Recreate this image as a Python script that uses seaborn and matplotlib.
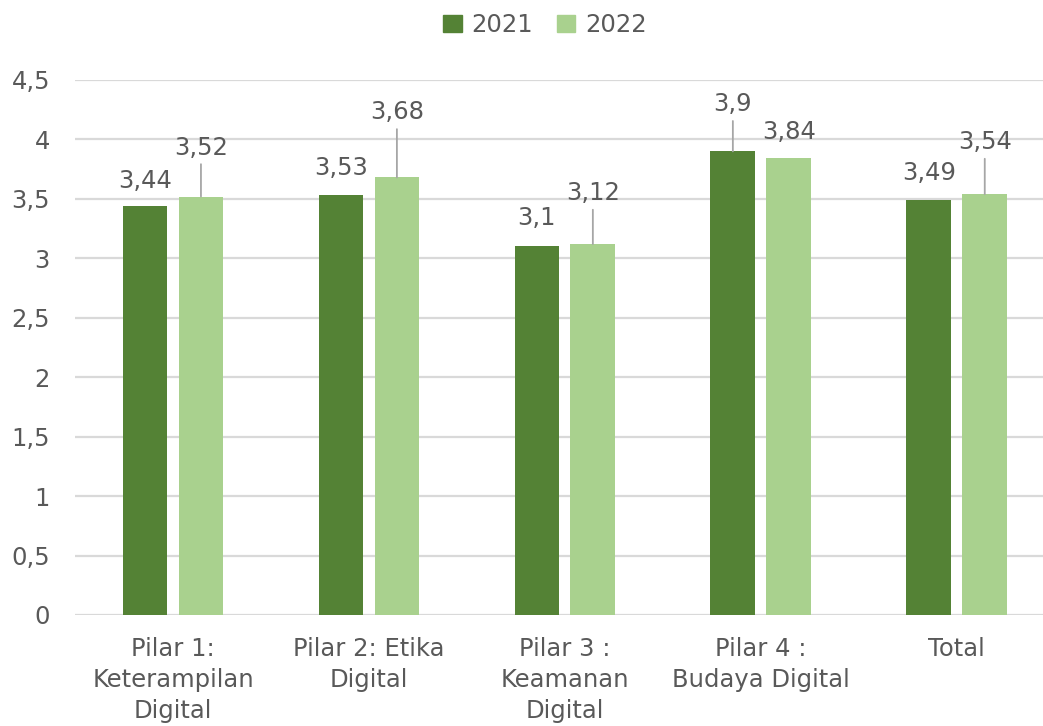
import matplotlib
matplotlib.use("Agg")
import matplotlib.pyplot as plt
import seaborn as sns
import pandas as pd

categories = ["Pilar 1:\nKeterampilan\nDigital", "Pilar 2: Etika\nDigital",
              "Pilar 3 :\nKeamanan\nDigital", "Pilar 4 :\nBudaya Digital", "Total"]
years = ["2021", "2022"]
values_2021 = [3.44, 3.53, 3.10, 3.90, 3.49]
values_2022 = [3.52, 3.68, 3.12, 3.84, 3.54]
y_ticks = [0, 0.5, 1, 1.5, 2, 2.5, 3, 3.5, 4, 4.5]

# label placement above each bar: (dx, dy) in pixels, and whether a leader line is drawn
label_offsets = {
    "2021": [(0, 25, False), (0, 27, False), (0, 28, False), (0, 47, True), (0, 27, False)],
    "2022": [(0, 49, True), (0, 65, True), (0, 51, True), (0, 26, False), (0, 52, True)],
}

sns.set_theme(style="white")
plt.rcParams["font.family"] = ["DejaVu Sans"]

TEXT = "#595959"
GRID = "#D9D9D9"
FS = 17.5
palette = {"2021": "#548235", "2022": "#A9D18E"}

df = pd.DataFrame({
    "Pilar": categories * 2,
    "Tahun": [years[0]] * len(categories) + [years[1]] * len(categories),
    "Skor": values_2021 + values_2022,
})

fig = plt.figure(figsize=(10.43, 7.26), dpi=100)
W, H = 1043, 726
ax = fig.add_axes([75 / W, 1 - 615 / H, (W - 75) / W, 535 / H])

sns.barplot(data=df, x="Pilar", y="Skor", hue="Tahun", palette=palette,
            width=0.571, gap=0.2, saturation=1, ax=ax, legend=True, errorbar=None,
            linewidth=0, edgecolor="none")

ax.set_ylim(0, 4.5)
ax.set_xlim(-0.5, 4.44)
ax.set_yticks(y_ticks)
ax.set_yticklabels([f"{t:g}".replace(".", ",") for t in y_ticks])
ax.set_xlabel("")
ax.set_ylabel("")
for s in ax.spines.values():
    s.set_visible(False)
ax.yaxis.grid(True, color=GRID, linewidth=1.6)
ax.set_axisbelow(True)
ax.tick_params(axis="both", length=0, labelsize=FS, labelcolor=TEXT)
ax.tick_params(axis="y", pad=18)
ax.tick_params(axis="x", pad=16)
for lbl in ax.get_xticklabels():
    lbl.set_linespacing(1.36)

# value labels
for container, year in zip(ax.containers, years):
    for bar, val, (dx, dy, line) in zip(container, df[df["Tahun"] == year]["Skor"],
                                        label_offsets[year]):
        x = bar.get_x() + bar.get_width() / 2
        y = bar.get_height()
        props = dict(arrowstyle="-", color="#A6A6A6", lw=1.3, shrinkA=1, shrinkB=0) if line else None
        ax.annotate(f"{val:g}".replace(".", ","), xy=(x, y), xytext=(dx, dy),
                    textcoords="offset pixels", ha="center", va="center",
                    fontsize=FS, color=TEXT, arrowprops=props)

leg = ax.get_legend()
leg.remove()
handles = [plt.Rectangle((0, 0), 1, 1, color=palette[y]) for y in years]
fig.legend(handles, years, loc="center", bbox_to_anchor=(545 / W, 1 - 25 / H),
           ncol=2, frameon=False, fontsize=FS, labelcolor=TEXT,
           handlelength=0.75, handleheight=0.75, handletextpad=0.4, columnspacing=1.0)

fig.savefig("out.png", dpi=100)
